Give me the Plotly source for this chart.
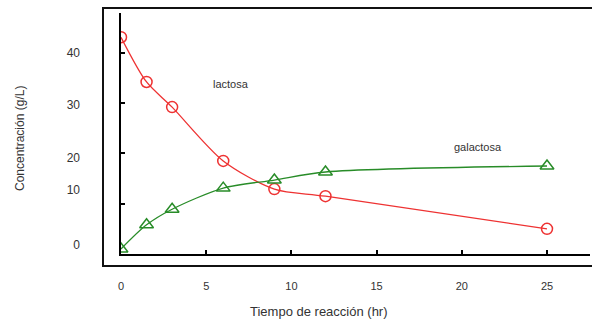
import plotly.graph_objects as go

# ---- data ----
time_hr = [0, 1.5, 3, 6, 9, 12, 25]
lactosa = [43.1, 34.2, 29.2, 18.5, 12.9, 11.5, 5.0]
galactosa = [1.0, 5.8, 8.9, 13.1, 14.7, 16.3, 17.5]

x_ticks = [0, 5, 10, 15, 20, 25]
y_inner_ticks = [10, 20, 30, 40]
# outer (offset) y tick labels as printed in the figure
y_label_text = ["40", "30", "20", "10", "0"]
y_label_pos = [40.0, 29.6, 19.1, 12.7, 1.8]

RED = "rgb(238,50,50)"
GREEN = "rgb(40,140,40)"
TXT = "#333333"
FONT = "Liberation Sans"

W, H = 592, 322
ML, MR, MT, MB = 40, 2, 13, 68
PW = W - ML - MR
PH = H - MT - MB
x0_px = 121
dom_left = (x0_px - ML) / PW

fig = go.Figure()
fig.add_trace(go.Scatter(
    x=time_hr, y=lactosa, mode="lines+markers",
    line=dict(color=RED, width=1.3, shape="spline", smoothing=0.8),
    marker=dict(symbol="circle-open", size=11, color=RED, line=dict(width=1.5)),
    showlegend=False, hoverinfo="skip"))
fig.add_trace(go.Scatter(
    x=time_hr, y=galactosa, mode="lines+markers",
    line=dict(color=GREEN, width=1.3, shape="spline", smoothing=0.8),
    marker=dict(symbol="triangle-up-open", size=12, color=GREEN, line=dict(width=1.5)),
    showlegend=False, hoverinfo="skip"))
fig.add_trace(go.Scatter(x=[0], y=[0], yaxis="y2", mode="markers",
                         marker=dict(opacity=0), showlegend=False, hoverinfo="skip"))

x_max = (590 - 121) / 17.04
y_max = (254 - 13) / 5.03

fig.update_layout(
    width=W, height=H,
    margin=dict(l=ML, r=MR, t=MT, b=MB, autoexpand=False),
    paper_bgcolor="white", plot_bgcolor="white",
    font=dict(family=FONT, size=12, color=TXT),
    xaxis=dict(domain=[dom_left, 1], range=[0, x_max], tickvals=x_ticks,
               showticklabels=True, ticklabelstandoff=21,
               tickfont=dict(size=11, color=TXT),
               ticks="inside", ticklen=4, tickwidth=2, automargin=False,
               tickcolor="black", showline=True, linecolor="black", linewidth=2,
               showgrid=False, zeroline=False),
    yaxis=dict(range=[0, y_max], tickvals=y_inner_ticks, showticklabels=False,
               ticks="inside", ticklen=4, tickwidth=1.5, tickcolor="black",
               showline=True, linecolor="black", linewidth=2, automargin=False,
               showgrid=False, zeroline=False),
    yaxis2=dict(overlaying="y", matches="y", anchor="free", side="left",
                position=(80 - ML) / PW, tickvals=y_label_pos, ticktext=y_label_text,
                showline=False, ticks="", showgrid=False, zeroline=False,
                automargin=False, tickfont=dict(size=12, color=TXT)),
)

def px_to_paper_y(py):
    return (H - MB - py) / PH

def px_to_paper_x(px):
    return (px - ML) / PW

# outer frame
fig.add_shape(type="rect", xref="paper", yref="paper",
              x0=px_to_paper_x(103), x1=px_to_paper_x(593),
              y0=px_to_paper_y(266), y1=px_to_paper_y(8),
              line=dict(color="#111", width=2), layer="above")

def label(px, py, text, size, angle=0):
    fig.add_annotation(x=px_to_paper_x(px), y=px_to_paper_y(py), xref="paper", yref="paper",
                       xanchor="center", yanchor="middle", text=text, textangle=angle,
                       showarrow=False, font=dict(size=size, color=TXT))

# axis titles and series labels
label(319, 311, "Tiempo de reacción (hr)", 13)
label(20, 139, "Concentración (g/L)", 12, -90)
label(231, 84, "lactosa", 11)
label(478, 147, "galactosa", 11)

fig.write_html("out.html", config={"displayModeBar": False},
               post_script="document.body.style.margin='0px';document.body.style.overflow='hidden';")
